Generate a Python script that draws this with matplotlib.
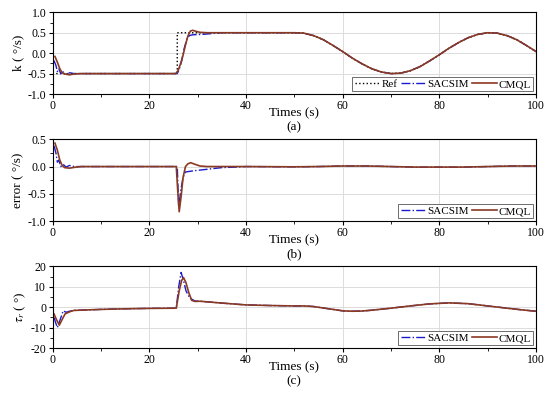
import numpy as np
import matplotlib
matplotlib.use("Agg")
import matplotlib.pyplot as plt
from matplotlib.ticker import AutoMinorLocator, MultipleLocator

plt.rcParams["font.family"] = ["Liberation Serif", "DejaVu Serif"]
plt.rcParams["mathtext.fontset"] = "stix"
plt.rcParams["axes.unicode_minus"] = False

# ---- data ----
# shared sinusoidal part of the reference trajectory (t >= 50 s)
t_sin = [50, 52, 54, 56, 58, 60, 62, 64, 66, 68, 70, 72, 74, 76, 78, 80,
         82, 84, 86, 88, 90, 92, 94, 96, 98, 100]
k_sin = [0.50, 0.49, 0.43, 0.33, 0.19, 0.04, -0.12, -0.26, -0.38, -0.46, -0.50,
         -0.49, -0.43, -0.33, -0.19, -0.04, 0.12, 0.26, 0.38, 0.46, 0.50, 0.49,
         0.43, 0.33, 0.19, 0.04]

# (a) yaw rate k
t_ref_a = [0, 25.8, 25.8] + t_sin
k_ref = [-0.5, -0.5, 0.5] + k_sin

t_cmql_a = [0.5, 1.0, 1.5, 2.0, 2.5, 3.5, 4.5, 6, 25.5, 26.0, 26.5, 27.0, 27.5,
            28.0, 28.5, 29.0, 29.5, 30.5, 32] + t_sin
k_cmql = [-0.08, -0.22, -0.38, -0.48, -0.51, -0.53, -0.51, -0.50, -0.50, -0.42,
          -0.25, -0.05, 0.20, 0.42, 0.54, 0.56, 0.54, 0.51, 0.50] + k_sin

t_sac_a = [0.3, 0.7, 1.0, 1.3, 1.7, 2.2, 2.8, 3.5, 4.5, 25.8, 26.2, 26.7, 27.2,
           27.8, 28.3, 29, 31, 33, 35] + t_sin
k_sac = [-0.18, -0.30, -0.45, -0.38, -0.50, -0.46, -0.51, -0.48, -0.50, -0.50,
         -0.40, -0.20, 0.10, 0.35, 0.43, 0.45, 0.46, 0.48, 0.50] + k_sin

# (b) tracking error
t_err_tail = [40, 50, 55, 60, 65, 70, 75, 80, 85, 90, 95, 100]
err_tail = [0.0, -0.005, 0.0, 0.01, 0.01, 0.0, -0.01, -0.01, -0.01, 0.0, 0.01, 0.01]

t_cmql_b = [0.5, 1.0, 1.5, 2.0, 2.5, 3.5, 4.5, 6, 25.6, 25.9, 26.2, 26.6, 27.0,
            27.5, 28.0, 28.6, 29.5, 30.5, 32] + t_err_tail
err_cmql = [0.43, 0.30, 0.12, 0.02, -0.02, -0.03, -0.015, 0.0, 0.0, -0.45, -0.83,
            -0.55, -0.20, 0.0, 0.05, 0.07, 0.04, 0.01, 0.0] + err_tail

t_sac_b = [0.3, 0.7, 1.0, 1.3, 1.7, 2.2, 2.8, 3.5, 4.5, 25.8, 26.1, 26.5, 27.0,
           27.5, 29, 31, 33, 35, 38] + t_err_tail
err_sac = [0.38, 0.25, 0.08, 0.12, 0.0, 0.04, -0.01, 0.02, 0.0, 0.0, -0.75, -0.45,
           -0.20, -0.10, -0.08, -0.06, -0.04, -0.02, -0.01] + err_tail

# (c) control torque tau_r
t_tau_tail = [30.5, 35, 40, 45, 50, 52, 54, 56, 58, 60, 62, 64, 66, 70, 74, 78,
              82, 86, 90, 94, 97, 100]
tau_tail = [2.9, 2.0, 1.1, 0.8, 0.6, 0.6, 0.3, -0.4, -1.1, -1.8, -2.0, -1.9, -1.5,
            -0.5, 0.6, 1.6, 2.1, 1.7, 0.6, -0.5, -1.3, -2.0]

t_cmql_c = [0.3, 0.8, 1.4, 2.0, 2.6, 3.5, 4.4, 10, 15, 20, 25.6, 26.2, 26.7, 27.1,
            27.6, 28.2, 28.8, 29.5] + t_tau_tail
tau_cmql = [-3.3, -6.0, -8.8, -6.0, -3.3, -2.3, -1.6, -1.1, -0.8, -0.6, -0.5, 8.0,
            13.0, 14.5, 12.0, 7.0, 3.3, 2.8] + tau_tail

t_sac_c = [0.3, 0.7, 1.0, 1.6, 2.2, 2.8, 3.5, 4.4, 10, 15, 20, 25.6, 26.1, 26.6,
           27.1, 27.6, 28.4, 29.5] + t_tau_tail
tau_sac = [-5.0, -8.0, -10.0, -6.0, -1.8, -2.5, -2.0, -1.6, -1.1, -0.8, -0.6, -0.5,
           10.0, 17.0, 13.0, 8.0, 4.4, 3.0] + tau_tail

C_CMQL = "#8B3A22"
C_SAC = "#1A1ACC"

fig = plt.figure(figsize=(5.5, 3.96), dpi=100)
left, width, h = 0.0955, 0.879, 0.2063
axa = fig.add_axes([left, 0.7626, width, h])
axb = fig.add_axes([left, 0.4419, width, h])
axc = fig.add_axes([left, 0.1212, width, h])

axa.plot(t_ref_a, k_ref, ls=":", color="black", lw=1.0, label="Ref")
axa.plot(t_sac_a, k_sac, ls="-.", color=C_SAC, lw=1.0, label="SACSIM")
axa.plot(t_cmql_a, k_cmql, ls="-", color=C_CMQL, lw=1.2, label="CMQL")

axb.plot(t_sac_b, err_sac, ls="-.", color=C_SAC, lw=1.0, label="SACSIM")
axb.plot(t_cmql_b, err_cmql, ls="-", color=C_CMQL, lw=1.2, label="CMQL")

axc.plot(t_sac_c, tau_sac, ls="-.", color=C_SAC, lw=1.0, label="SACSIM")
axc.plot(t_cmql_c, tau_cmql, ls="-", color=C_CMQL, lw=1.2, label="CMQL")

panels = [(axa, (-1, 1), 0.5, "k ( °/s)", "(a)"),
          (axb, (-1, 0.5), 0.5, "error ( °/s)", "(b)"),
          (axc, (-20, 20), 10, r"$\tau_r$ ( °)", "(c)")]
for ax, ylim, step, ylab, tag in panels:
    ax.set_xlim(0, 100)
    ax.set_ylim(*ylim)
    ax.xaxis.set_major_locator(MultipleLocator(20))
    ax.yaxis.set_major_locator(MultipleLocator(step))
    ax.xaxis.set_minor_locator(AutoMinorLocator(2))
    ax.yaxis.set_minor_locator(AutoMinorLocator(2))
    if step == 0.5:
        ax.yaxis.set_major_formatter(plt.FormatStrFormatter("%.1f"))
    ax.grid(True, which="major", color="#dcdcdc", lw=0.7)
    ax.set_axisbelow(True)
    ax.tick_params(which="major", direction="out", length=3, width=0.8, labelsize=8.5, pad=1.5)
    ax.tick_params(which="minor", direction="out", length=2, width=0.6)
    for s in ax.spines.values():
        s.set_linewidth(0.8)
    ax.set_xlabel("Times (s)", fontsize=9.5, va="center")
    ax.xaxis.set_label_coords(0.5, -0.235)
    ax.set_ylabel(ylab, fontsize=9.5, labelpad=2)
    ax.text(0.5, -0.405, tag, transform=ax.transAxes, ha="center", va="center", fontsize=9.5)
    leg = ax.legend(loc="lower right", ncol=3, fontsize=8, frameon=True, fancybox=False,
                    edgecolor="#555555", framealpha=1, borderpad=0.2, handlelength=2.2,
                    handletextpad=0.2, columnspacing=0.3, borderaxespad=0.25)
    leg.get_frame().set_linewidth(0.6)

fig.savefig("out.png", dpi=100)
